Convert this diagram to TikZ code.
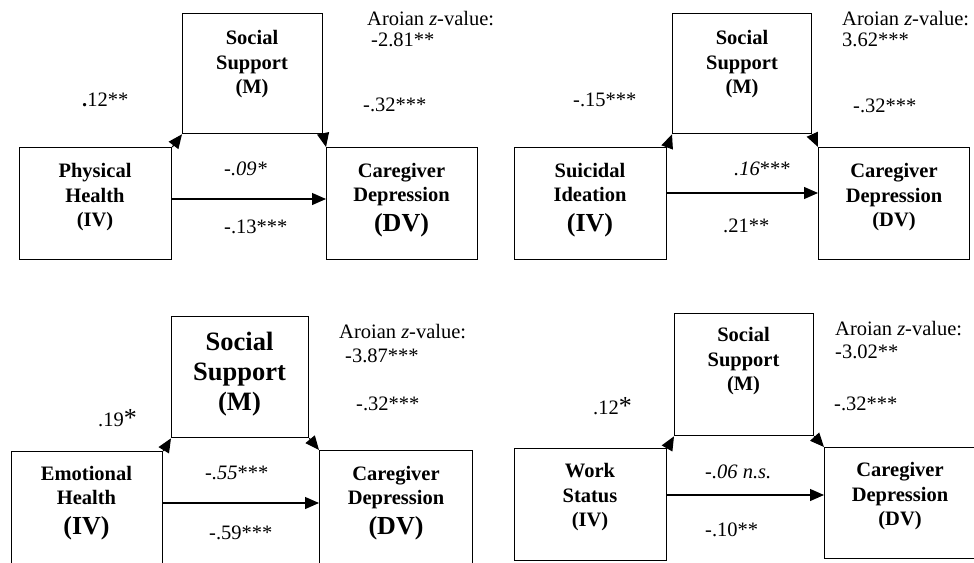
\documentclass[tikz,border=0pt]{standalone}
\usepackage{fontspec}
\setmainfont{Liberation Serif}
\usetikzlibrary{arrows.meta}
\tikzset{
  pbox/.style={draw, line width=1.3pt, inner sep=0pt, anchor=north west},
  ptext/.style={font=\bfseries\fontsize{20.5}{24.5}\selectfont, align=center, inner sep=0pt},
  coef/.style={font=\fontsize{20.5}{24.5}\selectfont, inner sep=0pt, anchor=base west},
  link/.style={line width=1.2pt, -{Triangle[length=14pt,width=12pt]}},
}
\newcommand{\bigline}[1]{{\fontsize{26}{30}\selectfont #1}}
\begin{document}
\begin{tikzpicture}[x=1pt, y=-1pt]
\useasboundingbox (0,0) rectangle (974,562);

% ---------- Physical health ----------
\node[pbox, minimum width=152pt, minimum height=112pt] (iv1) at (19,147) {};
\node[pbox, minimum width=140pt, minimum height=120pt] (m1) at (182,13) {};
\node[pbox, minimum width=151pt, minimum height=112pt] (dv1) at (326,147) {};
\node[ptext] (iv1t) at (95,197.5) {Physical\\Health\\(IV)};
\node[ptext] (m1t) at (252,64.5) {Social\\Support\\(M)};
\node[ptext] (dv1t) at (401.5,200) {Caregiver\\Depression\\[5pt]\bigline{(DV)}};
\draw[link] (iv1.north east) -- (m1.south west);
\draw[link] (m1.south east) -- (dv1.north west);
\draw[link] ([yshift=-52pt]iv1.north east) -- ([yshift=-52pt]dv1.north west);
\node[coef] (z1h) at (367,25) {Aroian \textit{z}-value:};
\node[coef] (z1v) at (371,46) {-2.81**};
\node[coef] (a1) at (82,106) {\textbf{.}12**};
\node[coef] (b1) at (363,111.5) {-.32***};
\node[coef] (c1) at (224,175) {\textit{-.09*}};
\node[coef] (t1) at (224,233) {-.13***};

% ---------- Suicidal ideation ----------
\node[pbox, minimum width=152pt, minimum height=112pt] (iv2) at (514,147) {};
\node[pbox, minimum width=139pt, minimum height=120pt] (m2) at (672,13) {};
\node[pbox, minimum width=151pt, minimum height=112pt] (dv2) at (818,147) {};
\node[ptext] (iv2t) at (590,200) {Suicidal\\Ideation\\[5pt]\bigline{(IV)}};
\node[ptext] (m2t) at (742,64.5) {Social\\Support\\(M)};
\node[ptext] (dv2t) at (894,197.5) {Caregiver\\Depression\\(DV)};
\draw[link] (iv2.north east) -- (m2.south west);
\draw[link] (m2.south east) -- (dv2.north west);
\draw[link] ([yshift=-46pt]iv2.north east) -- ([yshift=-46pt]dv2.north west);
\node[coef] (z2h) at (842,25) {Aroian \textit{z}-value:};
\node[coef] (z2v) at (842,46) {3.62***};
\node[coef] (a2) at (573,106) {-.15***};
\node[coef] (b2) at (853,112) {-.32***};
\node[coef] (c2) at (734,175) {\textit{.16}***};
\node[coef] (t2) at (723,232) {.21**};

% ---------- Emotional health ----------
\node[pbox, minimum width=151pt, minimum height=160pt] (iv3) at (11,451) {};
\node[pbox, minimum width=137pt, minimum height=121pt] (m3) at (171,316) {};
\node[pbox, minimum width=153pt, minimum height=160pt] (dv3) at (319,450) {};
\node[ptext] (iv3t) at (86.5,503) {Emotional\\Health\\[5pt]\bigline{(IV)}};
\node[ptext, font=\bfseries\fontsize{26.5}{30}\selectfont] (m3t) at (239.5,374) {Social\\Support\\(M)};
\node[ptext] (dv3t) at (396,503) {Caregiver\\Depression\\[5pt]\bigline{(DV)}};
\draw[link] (iv3.north east) -- (m3.south west);
\draw[link] (m3.south east) -- (dv3.north west);
\draw[link] ([yshift=-52pt]iv3.north east) -- ([yshift=-53pt]dv3.north west);
\node[coef] (z3h) at (339,338) {Aroian \textit{z}-value:};
\node[coef] (z3v) at (345,362) {-3.87***};
\node[coef] (a3) at (98,426) {.19{\fontsize{26}{26}\selectfont *}};
\node[coef] (b3) at (356,410) {-.32***};
\node[coef] (c3) at (205,479) {\textit{-.55}***};
\node[coef] (t3) at (209,539) {-.59***};

% ---------- Work status ----------
\node[pbox, minimum width=152pt, minimum height=112pt] (iv4) at (514,448) {};
\node[pbox, minimum width=139pt, minimum height=122pt] (m4) at (674,313) {};
\node[pbox, minimum width=154pt, minimum height=111pt] (dv4) at (824,447) {};
\node[ptext] (iv4t) at (590,497.5) {Work\\Status\\(IV)};
\node[ptext] (m4t) at (743.5,361.5) {Social\\Support\\(M)};
\node[ptext] (dv4t) at (900,496.5) {Caregiver\\Depression\\(DV)};
\draw[link] (iv4.north east) -- (m4.south west);
\draw[link] (m4.south east) -- (dv4.north west);
\draw[link] ([yshift=-47pt]iv4.north east) -- ([yshift=-48pt]dv4.north west);
\node[coef] (z4h) at (835,335) {Aroian \textit{z}-value:};
\node[coef] (z4v) at (835,358) {-3.02**};
\node[coef] (a4) at (593,414) {.12{\fontsize{26}{26}\selectfont *}};
\node[coef] (b4) at (834,410) {-.32***};
\node[coef] (c4) at (705,478) {\textit{-.06 n.s.}};
\node[coef] (t4) at (705,536) {-.10**};
\end{tikzpicture}
\end{document}
